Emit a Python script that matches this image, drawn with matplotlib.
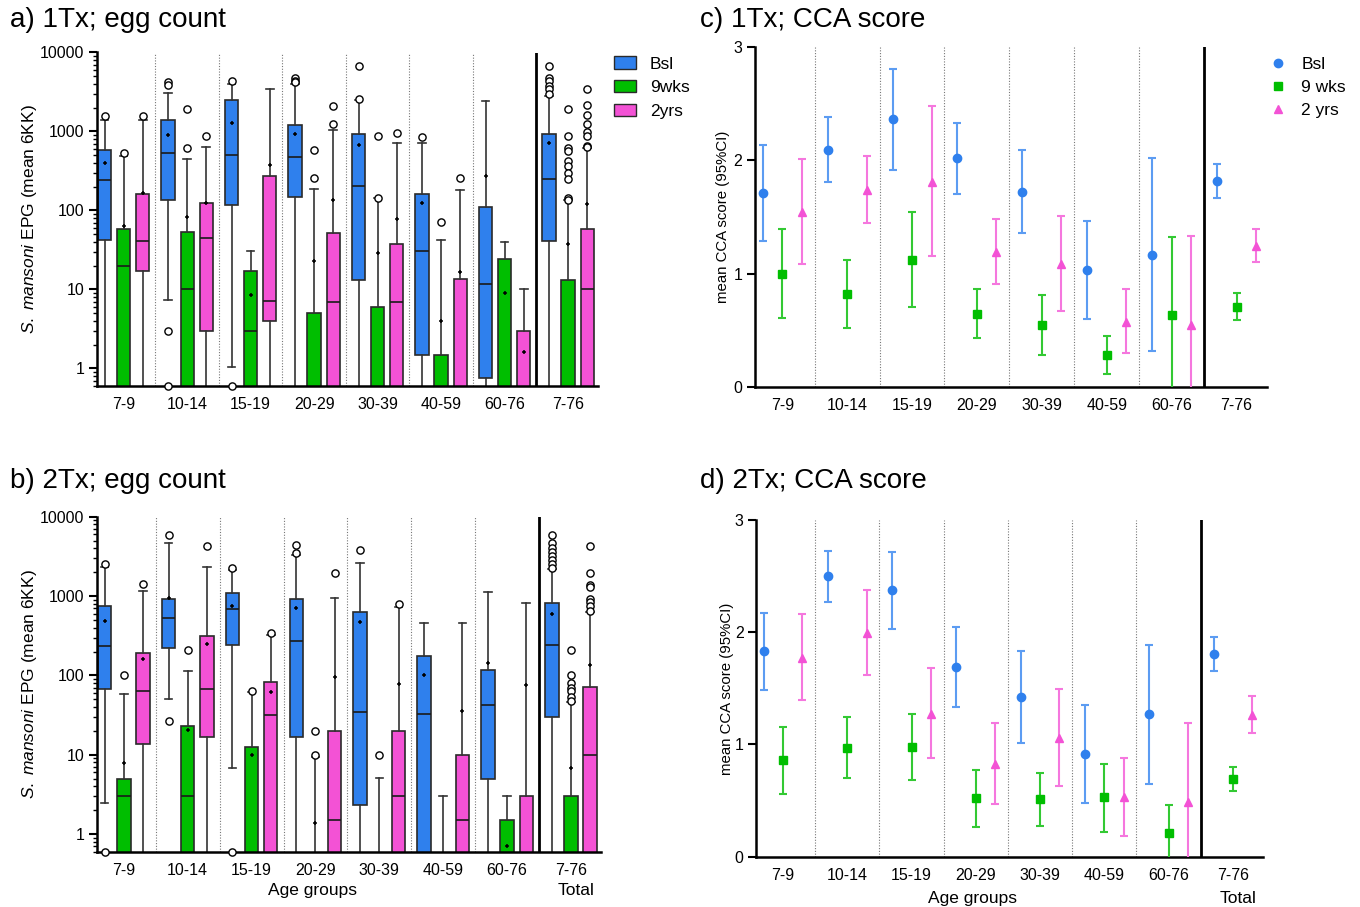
import numpy as np
import matplotlib
matplotlib.use('Agg')
import matplotlib.pyplot as plt
from matplotlib.patches import Patch
from matplotlib.lines import Line2D
from matplotlib.ticker import FixedLocator, LogLocator, NullFormatter, FuncFormatter

plt.rcParams['font.family'] = 'Liberation Sans'
plt.rcParams['mathtext.fontset'] = 'custom'
plt.rcParams['mathtext.it'] = 'Liberation Sans:italic'
plt.rcParams['mathtext.rm'] = 'Liberation Sans'

# %%
# data
groups = ['7-9', '10-14', '15-19', '20-29', '30-39', '40-59', '60-76', '7-76']
series_egg = ['Bsl', '9wks', '2yrs']
series_cca = ['Bsl', '9 wks', '2 yrs']
colors = ['#2F80ED', '#00BE00', '#F352D5']
bar_colors = ['#5C9CF2', '#33C933', '#F577DE']

# egg counts: (whislo, q1, median, q3, whishi, mean); 0 = zero EPG (below log axis)
a_bsl = [(0, 42, 240, 580, 1400, 400), (7.3, 135, 530, 1400, 3100, 900),
         (1.05, 117, 500, 2470, 4000, 1270), (0, 147, 480, 1200, 4000, 930),
         (0, 13, 205, 925, 2500, 670), (0, 1.5, 31, 162, 720, 125),
         (0, 0.75, 11.6, 111, 2460, 275), (0, 40.5, 254, 940, 2800, 710)]
a_9wk = [(0, 0, 20, 57.6, 490, 64), (0, 0, 10, 54, 455, 83),
         (0, 0, 3, 17, 31, 8.6), (0, 0, 0, 5, 186, 23),
         (0, 0, 0, 6, 143, 29), (0, 0, 0, 1.5, 42, 4),
         (0, 0, 0, 24, 40, 9.1), (0, 0, 0, 13, 135, 38)]
a_2yr = [(0, 17, 41, 164, 1400, 165), (0, 3, 45, 124, 640, 124),
         (0, 4, 7.1, 270, 3450, 380), (0, 0, 7, 52, 1040, 135),
         (0, 0, 7, 38, 720, 77), (0, 0, 0, 13.4, 180, 16.6),
         (0, 0, 0, 3, 10, 1.6), (0, 0, 10, 59, 625, 120)]
a_bsl_out = [[1560], [4200, 3900, 3.0, 0], [4300, 0], [4700, 4400, 4200],
             [6800, 2550], [860], [], [6800, 4730, 4300, 3790, 3430, 2960]]
a_9wk_out = [[540], [1900, 610], [], [590, 256], [870, 145], [71], [],
             [1900, 870, 625, 570, 420, 370, 300, 254, 143, 135]]
a_2yr_out = [[1550], [870], [], [2100, 1240], [950], [260], [],
             [3430, 2140, 1600, 1260, 980, 880, 660, 640]]

b_bsl = [(2.5, 67, 235, 750, 2340, 490), (50, 220, 525, 930, 4600, 940),
         (6.8, 245, 680, 1100, 2140, 750), (0, 16.8, 275, 930, 3300, 700),
         (0, 2.3, 35, 625, 2640, 470), (0, 0, 33, 177, 460, 100),
         (0, 5, 42, 117, 1140, 142), (0, 29.7, 240, 826, 2200, 590)]
b_9wk = [(0, 0, 3, 5, 58, 7.8), (0, 0, 3, 22.7, 112, 20.6),
         (0, 0, 0, 12.4, 62, 9.8), (0, 0, 0, 0, 9.5, 1.4),
         (0, 0, 0, 0, 5.1, 0.5), (0, 0, 0, 0, 3, 0.3),
         (0, 0, 0, 1.49, 3, 0.7), (0, 0, 0, 3, 46, 6.8)]
b_2yr = [(0, 13.8, 63, 190, 1170, 160), (0, 16.5, 67, 317, 2340, 250),
         (0, 0, 31.8, 82, 325, 62), (0, 0, 1.5, 20, 950, 95),
         (0, 0, 3, 20, 735, 79), (0, 0, 1.5, 9.9, 460, 36),
         (0, 0, 0, 3, 820, 76), (0, 0, 9.9, 72, 625, 137)]
b_bsl_out = [[2500, 0], [5800, 27], [2240, 0], [4430, 3520], [3800], [], [],
             [5900, 4610, 4070, 3600, 3200, 2860, 2500, 2250]]
b_9wk_out = [[102], [210], [64], [19.8, 10], [10], [], [],
             [210, 101, 81, 70, 64, 54, 47]]
b_2yr_out = [[1430], [4260], [345], [1970], [790], [], [],
             [4260, 1930, 1380, 1290, 910, 840, 760, 650]]

# CCA score: (mean, lower 95%CI, upper 95%CI)
c_bsl = [(1.715, 1.29, 2.137), (2.095, 1.81, 2.384), (2.364, 1.919, 2.81),
         (2.019, 1.706, 2.331), (1.724, 1.359, 2.095), (1.03, 0.601, 1.465),
         (1.164, 0.312, 2.019), (1.818, 1.668, 1.966)]
c_9wk = [(1.0, 0.604, 1.394), (0.816, 0.519, 1.117), (1.123, 0.704, 1.541),
         (0.645, 0.433, 0.864), (0.545, 0.277, 0.813), (0.277, 0.109, 0.445),
         (0.634, -0.06, 1.326), (0.707, 0.589, 0.825)]
c_2yr = [(1.54, 1.087, 2.013), (1.736, 1.45, 2.036), (1.81, 1.155, 2.479),
         (1.19, 0.911, 1.48), (1.082, 0.672, 1.512), (0.572, 0.295, 0.861),
         (0.545, -0.24, 1.335), (1.244, 1.099, 1.397)]

d_bsl = [(1.833, 1.485, 2.174), (2.498, 2.266, 2.727), (2.373, 2.026, 2.718),
         (1.693, 1.331, 2.05), (1.426, 1.016, 1.83), (0.915, 0.478, 1.351),
         (1.268, 0.645, 1.889), (1.803, 1.651, 1.954)]
d_9wk = [(0.861, 0.561, 1.152), (0.971, 0.704, 1.242), (0.977, 0.68, 1.274),
         (0.523, 0.267, 0.772), (0.514, 0.273, 0.749), (0.529, 0.223, 0.826),
         (0.208, -0.04, 0.457), (0.695, 0.588, 0.802)]
d_2yr = [(1.773, 1.393, 2.165), (1.99, 1.619, 2.376), (1.274, 0.876, 1.684),
         (0.823, 0.469, 1.194), (1.054, 0.633, 1.491), (0.529, 0.184, 0.882),
         (0.49, -0.21, 1.194), (1.262, 1.099, 1.435)]

# %%
offsets = [-0.3, 0.0, 0.3]
x = np.arange(len(groups))
YMIN, YMAX = 0.6, 10000
FLOOR = 0.1
TICKFS = 11.5


def style_axes(ax):
    for s in ['top', 'right']:
        ax.spines[s].set_visible(False)
    for s in ['left', 'bottom']:
        ax.spines[s].set_linewidth(1.8)
    ax.tick_params(axis='y', which='major', length=6, width=1.5, labelsize=TICKFS, pad=3)
    ax.tick_params(axis='y', which='minor', length=3, width=1.0)
    ax.tick_params(axis='x', length=0, labelsize=TICKFS, pad=8)
    ax.set_xticks(x)
    ax.set_xticklabels(groups)
    ax.set_xlim(-0.42, 7.47)
    for i in range(len(groups) - 2):
        ax.axvline(i + 0.5, color='#777777', lw=0.8, ls=(0, (1, 1.5)), zorder=0)
    ax.axvline(len(groups) - 1.5, color='black', lw=2.0, zorder=0)


def egg_panel(ax, stats, outs):
    for k in range(3):
        pos = x + offsets[k]
        bx = []
        for row in stats[k]:
            lo, q1, med, q3, hi, mn = [v if v > 0 else FLOOR for v in row]
            bx.append(dict(whislo=lo, q1=q1, med=med, q3=q3, whishi=hi, mean=mn, fliers=[]))
        ax.bxp(bx, positions=pos, widths=0.21, capwidths=0.12, patch_artist=True,
               showmeans=True, showfliers=False, manage_ticks=False,
               boxprops=dict(facecolor=colors[k], edgecolor='#2a2a2a', linewidth=1.2),
               medianprops=dict(color='#1a1a1a', linewidth=1.2),
               whiskerprops=dict(color='#333333', linewidth=1.2),
               capprops=dict(color='#333333', linewidth=1.2),
               meanprops=dict(marker='+', markersize=3.5, markeredgecolor='black',
                              markeredgewidth=1.1))
        fx = [p for p, f in zip(pos, outs[k]) for _ in f]
        fy = [max(v, YMIN) for f in outs[k] for v in f]
        ax.plot(fx, fy, 'o', mfc='white', mec='black', ms=5.2, mew=1.0,
                clip_on=False, zorder=4)
    ax.set_yscale('log')
    ax.set_ylim(YMIN, YMAX)
    ax.yaxis.set_major_locator(FixedLocator([1, 10, 100, 1000, 10000]))
    ax.yaxis.set_major_formatter(FuncFormatter(lambda v, p: '%d' % v))
    ax.yaxis.set_minor_locator(LogLocator(base=10, subs=np.arange(2, 10)))
    ax.yaxis.set_minor_formatter(NullFormatter())
    style_axes(ax)
    ax.set_ylabel(r'$\mathit{S.\ mansoni}$ EPG (mean 6KK)', fontsize=12.5)
    ax.yaxis.set_label_coords(-0.115, 0.5)


def cca_panel(ax, rows):
    markers = ['o', 's', '^']
    sizes = [6, 5.5, 6]
    for k in range(3):
        pos = x + offsets[k]
        m = np.array([r[0] for r in rows[k]])
        lo = np.array([r[1] for r in rows[k]])
        hi = np.array([r[2] for r in rows[k]])
        ax.errorbar(pos, m, yerr=[m - lo, hi - m], fmt=markers[k], color=colors[k],
                    ms=sizes[k], ecolor=bar_colors[k], elinewidth=1.5, capsize=2.8,
                    capthick=1.5, zorder=3)
    ax.set_ylim(0, 3)
    ax.set_yticks([0, 1, 2, 3])
    style_axes(ax)
    ax.set_ylabel('mean CCA score (95%CI)', fontsize=10.8)


fig = plt.figure(figsize=(13.6, 9.07), dpi=100)
W, H = 1360.0, 907.0


def add_ax(l, r, t, b):
    return fig.add_axes([l / W, 1 - b / H, (r - l) / W, (b - t) / H])


ax_a = add_ax(97, 598, 52.5, 386)
ax_b = add_ax(97, 601, 516.7, 851.7)
ax_c = add_ax(755, 1267, 47.3, 386.7)
ax_d = add_ax(756, 1263, 520, 856.7)

egg_panel(ax_a, [a_bsl, a_9wk, a_2yr], [a_bsl_out, a_9wk_out, a_2yr_out])
egg_panel(ax_b, [b_bsl, b_9wk, b_2yr], [b_bsl_out, b_9wk_out, b_2yr_out])
cca_panel(ax_c, [c_bsl, c_9wk, c_2yr])
cca_panel(ax_d, [d_bsl, d_9wk, d_2yr])
ax_c.yaxis.set_label_coords(-0.049, 0.5)
ax_d.yaxis.set_label_coords(-0.044, 0.5)

# legends
egg_handles = [Patch(facecolor=colors[k], edgecolor='#2a2a2a', linewidth=1.0, label=series_egg[k])
               for k in range(3)]
ax_a.legend(handles=egg_handles, loc='upper left', bbox_to_anchor=(1.0, 1.035),
            frameon=False, fontsize=12.5, handlelength=1.3, handleheight=0.7,
            handletextpad=0.8, labelspacing=0.5, borderaxespad=0.5)
cca_handles = [Line2D([], [], marker=m, color=colors[k], linestyle='none', ms=6,
                      label=series_cca[k]) for k, m in enumerate(['o', 's', '^'])]
ax_c.legend(handles=cca_handles, loc='upper left', bbox_to_anchor=(0.984, 1.003),
            frameon=False, fontsize=12.5, handlelength=1.0, handletextpad=0.85,
            labelspacing=0.45, borderaxespad=0.2)

# axis captions
for ax, yy in [(ax_b, -0.117), (ax_d, -0.123)]:
    tr = ax.get_xaxis_transform()
    ax.text(2.95, yy, 'Age groups', transform=tr, ha='center', va='center', fontsize=12.5)
    ax.text(7.08, yy, 'Total', transform=tr, ha='center', va='center', fontsize=12.5)

# panel titles
fig.text(10 / W, 1 - 20 / H, 'a) 1Tx; egg count', fontsize=20, va='center')
fig.text(700 / W, 1 - 20 / H, 'c) 1Tx; CCA score', fontsize=20, va='center')
fig.text(10 / W, 1 - 481 / H, 'b) 2Tx; egg count', fontsize=20, va='center')
fig.text(700 / W, 1 - 481 / H, 'd) 2Tx; CCA score', fontsize=20, va='center')

fig.savefig('out.png', dpi=100)
plt.close()
